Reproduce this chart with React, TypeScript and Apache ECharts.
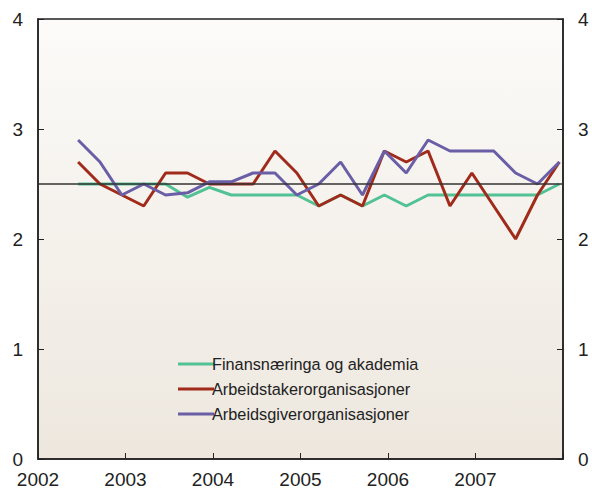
import React, { useEffect, useRef } from "react";
import * as echarts from "echarts";

const years = [2002, 2003, 2004, 2005, 2006, 2007];
// quarters from Q2 2002 to Q4 2007
const quarters: [number, number][] = [];
for (let y = 2002; y <= 2007; y++) {
  for (let q = 1; q <= 4; q++) {
    if (y === 2002 && q === 1) continue;
    quarters.push([y, q]);
  }
}
const finans = [2.5, 2.5, 2.5, 2.5, 2.5, 2.38, 2.47, 2.4, 2.4, 2.4, 2.4, 2.3, 2.4, 2.3, 2.4, 2.3, 2.4, 2.4, 2.4, 2.4, 2.4, 2.4, 2.5];
const arbeidstaker = [2.7, 2.5, 2.4, 2.3, 2.6, 2.6, 2.5, 2.5, 2.5, 2.8, 2.6, 2.3, 2.4, 2.3, 2.8, 2.7, 2.8, 2.3, 2.6, 2.3, 2.0, 2.4, 2.7];
const arbeidsgiver = [2.9, 2.7, 2.4, 2.5, 2.4, 2.42, 2.52, 2.52, 2.6, 2.6, 2.4, 2.5, 2.7, 2.4, 2.8, 2.6, 2.9, 2.8, 2.8, 2.8, 2.6, 2.5, 2.7];
const seriesNames = ["Finansnæringa og akademia", "Arbeidstakerorganisasjoner", "Arbeidsgiverorganisasjoner"];
const reference = 2.5;
const yTicks = [0, 1, 2, 3, 4];

const xOf = (y: number, q: number) => y + (q * 3 - 0.5) / 12;
const toPoints = (vals: number[]) => vals.map((v, i) => [xOf(quarters[i][0], quarters[i][1]), v]);

export default function App() {
  const ref = useRef<HTMLDivElement>(null);
  useEffect(() => {
    document.body.style.margin = "0";
    const chart = echarts.init(ref.current!, null, { renderer: "svg" });
    const font = "Liberation Sans, Arial, sans-serif";
    const yAxisCommon = {
      type: "value",
      min: yTicks[0],
      max: yTicks[yTicks.length - 1],
      interval: 1,
      axisLine: { show: true, lineStyle: { color: "#222", width: 1.5 } },
      axisTick: { show: true, inside: true, length: 6, lineStyle: { color: "#222" } },
      splitLine: { show: false },
      axisLabel: { color: "#222", fontSize: 19, fontFamily: font, margin: 15 },
    };
    chart.setOption({
      animation: false,
      grid: {
        left: 38,
        right: 29,
        top: 19,
        bottom: 38,
        show: true,
        borderColor: "#222",
        borderWidth: 1.5,
        backgroundColor: new echarts.graphic.LinearGradient(0, 0, 0, 1, [
          { offset: 0, color: "#fcfbf9" },
          { offset: 1, color: "#ede7de" },
        ]),
      },
      legend: {
        data: seriesNames,
        orient: "vertical",
        left: 173,
        top: 349,
        itemWidth: 36,
        itemHeight: 3,
        itemGap: 5,
        icon: "rect",
        textStyle: { color: "#222", fontSize: 16.3, fontFamily: font, lineHeight: 20, padding: [0, 0, 0, -7] },
      },
      xAxis: {
        type: "value",
        min: years[0],
        max: years[years.length - 1] + 1,
        interval: 1,
        axisLine: { show: true, lineStyle: { color: "#222", width: 1.5 } },
        axisTick: { show: true, inside: true, length: 6, lineStyle: { color: "#222" } },
        splitLine: { show: false },
        axisLabel: {
          color: "#222",
          fontSize: 19,
          fontFamily: font,
          margin: 11,
          formatter: (v: number) => (years.includes(v) ? String(v) : ""),
        },
      },
      yAxis: [
        { ...yAxisCommon, position: "left" },
        { ...yAxisCommon, position: "right" },
      ],
      series: [
        {
          name: seriesNames[0],
          type: "line",
          data: toPoints(finans),
          showSymbol: false,
          lineStyle: { width: 3, color: "#52c194" },
          itemStyle: { color: "#52c194" },
        },
        {
          name: seriesNames[1],
          type: "line",
          data: toPoints(arbeidstaker),
          showSymbol: false,
          lineStyle: { width: 3, color: "#a12b1b" },
          itemStyle: { color: "#a12b1b" },
        },
        {
          name: seriesNames[2],
          type: "line",
          data: toPoints(arbeidsgiver),
          showSymbol: false,
          lineStyle: { width: 3, color: "#6a5fa6" },
          itemStyle: { color: "#6a5fa6" },
        },
        {
          type: "line",
          data: [],
          z: 5,
          markLine: {
            silent: true,
            symbol: "none",
            label: { show: false },
            lineStyle: { color: "#333", width: 1.5, type: "solid" },
            data: [{ yAxis: reference }],
          },
        },
      ],
    });
    return () => chart.dispose();
  }, []);
  return <div ref={ref} style={{ width: 592, height: 497 }} />;
}
